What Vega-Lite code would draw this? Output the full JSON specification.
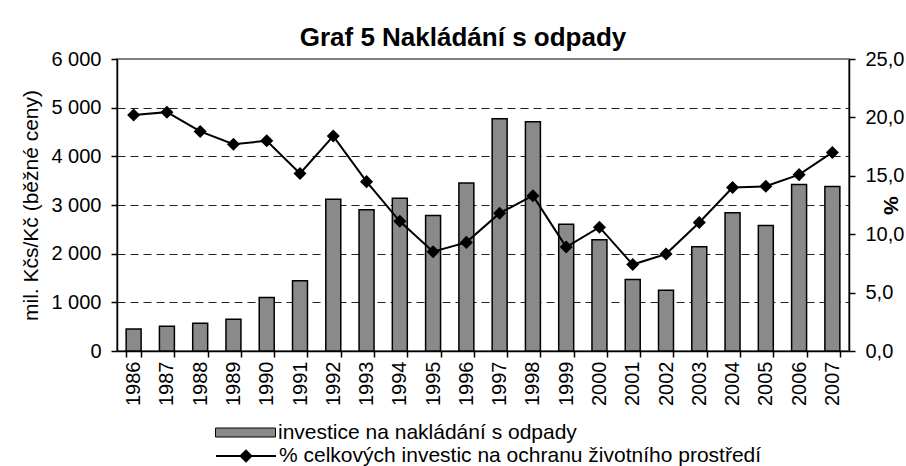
{
  "$schema": "https://vega.github.io/schema/vega-lite/v6.json",
  "width": 732,
  "height": 292,
  "autosize": {"type": "none"},
  "padding": {"left": 117, "top": 59, "right": 57, "bottom": 115},
  "background": "white",
  "config": {
    "font": "Liberation Sans",
    "view": {"stroke": "#808080", "strokeWidth": 2},
    "axis": {
      "labelFont": "Liberation Sans",
      "titleFont": "Liberation Sans",
      "labelColor": "black",
      "titleColor": "black",
      "domainColor": "black",
      "tickColor": "black",
      "domainWidth": 1.5,
      "tickWidth": 1.5,
      "labelFontSize": 20,
      "titleFontSize": 21
    },
    "legend": {
      "orient": "none",
      "padding": 0,
      "labelFont": "Liberation Sans",
      "labelFontSize": 21,
      "labelColor": "black",
      "labelLimit": 0,
      "labelOffset": 2,
      "symbolSize": 3600,
      "symbolStrokeColor": "black"
    }
  },
  "title": {
    "text": "Graf 5 Nakládání s odpady",
    "font": "Liberation Sans",
    "fontSize": 26,
    "fontWeight": "bold",
    "color": "black",
    "anchor": "middle",
    "baseline": "bottom",
    "offset": -28,
    "dx": -20
  },
  "data": {
    "values": [
      {"year": 1986, "invest": 450, "pct": 20.2},
      {"year": 1987, "invest": 510, "pct": 20.45},
      {"year": 1988, "invest": 570, "pct": 18.8},
      {"year": 1989, "invest": 650, "pct": 17.7},
      {"year": 1990, "invest": 1100, "pct": 18.0},
      {"year": 1991, "invest": 1445, "pct": 15.2},
      {"year": 1992, "invest": 3120, "pct": 18.4},
      {"year": 1993, "invest": 2900, "pct": 14.5},
      {"year": 1994, "invest": 3140, "pct": 11.1},
      {"year": 1995, "invest": 2785, "pct": 8.5},
      {"year": 1996, "invest": 3450, "pct": 9.3},
      {"year": 1997, "invest": 4770, "pct": 11.8},
      {"year": 1998, "invest": 4710, "pct": 13.3},
      {"year": 1999, "invest": 2605, "pct": 8.9},
      {"year": 2000, "invest": 2285, "pct": 10.6},
      {"year": 2001, "invest": 1470, "pct": 7.4},
      {"year": 2002, "invest": 1250, "pct": 8.3},
      {"year": 2003, "invest": 2140, "pct": 11.0},
      {"year": 2004, "invest": 2840, "pct": 14.0},
      {"year": 2005, "invest": 2580, "pct": 14.1},
      {"year": 2006, "invest": 3420, "pct": 15.1},
      {"year": 2007, "invest": 3380, "pct": 17.0}
    ]
  },
  "encoding": {
    "x": {
      "field": "year",
      "type": "ordinal",
      "scale": {"paddingInner": 0.55, "paddingOuter": 0.275},
      "axis": {
        "title": null,
        "labelAngle": -90,
        "labelAlign": "right",
        "labelBaseline": "middle",
        "labelPadding": 4,
        "tickSize": 6,
        "tickBand": "extent"
      }
    }
  },
  "layer": [
    {
      "mark": {"type": "bar", "stroke": "black", "strokeWidth": 1.5},
      "encoding": {
        "y": {
          "field": "invest",
          "type": "quantitative",
          "scale": {"domain": [0, 6000], "nice": false},
          "axis": {
            "title": "mil. Kčs/Kč (běžné ceny)",
            "titleFontWeight": "normal",
            "values": [0, 1000, 2000, 3000, 4000, 5000, 6000],
            "labelExpr": "replace(format(datum.value, ','), ',', ' ')",
            "tickSize": 6,
            "labelPadding": 10,
            "titlePadding": 9,
            "grid": true,
            "gridDash": [8, 5],
            "gridColor": {"condition": {"test": "datum.value >= 6000 || datum.value <= 0", "value": "transparent"}, "value": "#222222"},
            "gridWidth": 1
          }
        },
        "fill": {
          "datum": "investice na nakládání s odpady",
          "scale": {"range": ["#8a8a8a"]},
          "legend": {
            "title": null,
            "legendX": 98,
            "legendY": 343,
            "symbolType": "M-1,-0.15H1V0.15H-1Z",
            "symbolStrokeWidth": 1
          }
        }
      }
    },
    {
      "layer": [
        {
          "mark": {"type": "line", "strokeWidth": 2},
          "encoding": {
            "y": {
              "field": "pct",
              "type": "quantitative",
              "scale": {"domain": [0, 25], "nice": false},
              "axis": {
                "orient": "right",
                "title": "%",
                "titleFontWeight": "bold",
                "titleFontSize": 21,
                "values": [0, 5, 10, 15, 20, 25],
                "labelExpr": "replace(format(datum.value, '.1f'), '.', ',')",
                "tickSize": 6,
                "labelPadding": 10,
                "titlePadding": -24,
                "grid": false
              }
            },
            "stroke": {
              "datum": "% celkových investic na ochranu životního prostředí",
              "scale": {"range": ["black"]},
              "legend": {
                "title": null,
                "legendX": 98,
                "legendY": 366,
                "symbolType": "M-1,0H1M0,-0.18L0.18,0L0,0.18L-0.18,0Z",
                "symbolFillColor": "black",
                "symbolStrokeWidth": 2
              }
            }
          }
        },
        {
          "mark": {"type": "point", "shape": "diamond", "size": 170, "filled": true, "fill": "black", "opacity": 1},
          "encoding": {
            "y": {"field": "pct", "type": "quantitative"}
          }
        }
      ]
    }
  ],
  "resolve": {"scale": {"y": "independent", "fill": "independent", "stroke": "independent"}}
}
